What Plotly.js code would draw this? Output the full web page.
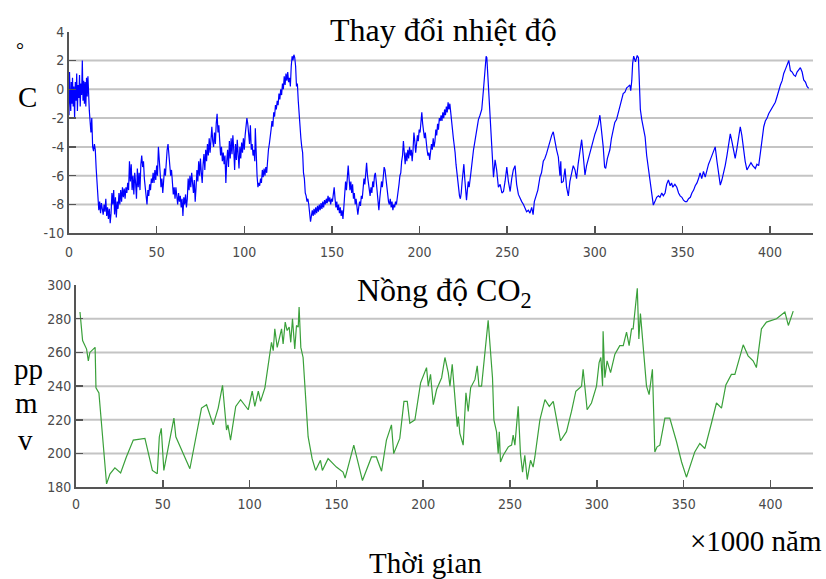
<!DOCTYPE html>
<html>
<head>
<meta charset="utf-8">
<script src="https://cdn.plot.ly/plotly-3.0.1.min.js"></script>
<style>html,body{margin:0;padding:0;background:#fff}#chart{width:826px;height:579px}</style>
</head>
<body>
<div id="chart"></div>
<script>
// ---------- DATA ----------
// Temperature change (°C), age in thousand years
const tempAge = [
0,0.3,0.6,1,1.3,1.7,2,2.4,2.8,3.2,3.6,4,4.4,4.8,5.2,5.6,6,6.4,6.8,7.2,7.6,8,8.4,8.8,9.2,9.6,10,10.4,10.8,11.2,11.6,
12.5,13,13.5,14,14.5,15,15.5,16,16.5,17,17.5,18,18.5,19,19.5,20,20.5,21,21.5,22,22.5,23,23.5,24,24.5,25,25.5,26,26.5,27,27.5,28,28.5,29,29.5,30,
30.5,31,31.5,32,32.5,33,33.5,34,34.5,35,35.5,36,36.5,37,37.5,38,38.5,39,39.5,40,40.5,41,41.5,42,42.5,43,43.5,44,44.5,45,45.5,46,46.5,47,47.5,48,48.5,49,49.5,50,
50.5,51,51.5,52,52.5,53,53.5,54,54.5,55,55.5,56,56.5,57,57.5,58,58.5,59,59.5,60,60.5,61,61.5,62,62.5,63,63.5,64,64.5,65,65.5,66,66.5,67,67.5,68,68.5,69,69.5,70,
70.5,71,71.5,72,72.5,73,73.5,74,74.5,75,75.5,76,76.5,77,77.5,78,78.5,79,79.5,80,80.5,81,81.5,82,82.5,83,83.5,84,84.5,85,85.5,86,86.5,87,87.5,88,88.5,89,89.5,90,
90.5,91,91.5,92,92.5,93,93.5,94,94.5,95,95.5,96,96.5,97,97.5,98,98.5,99,99.5,100,100.5,101,101.5,102,102.5,
103,103.5,104,104.5,105,105.5,106,106.3,106.8,107.3,107.8,108.3,108.8,109.3,109.8,110.3,110.8,111.3,111.8,112.3,112.8,113.3,113.8,114.3,114.8,115.3,115.8,116.3,116.8,117.3,117.8,118.3,118.8,119.3,119.8,
120.3,120.8,121.3,121.8,122.3,122.8,123.3,123.8,124.3,124.8,125.3,125.8,126.3,126.8,127.3,127.8,128.3,128.8,129.3,129.8,130.3,130.8,131.3,131.8,132.3,132.8,133.3,133.8,134.3,134.8,135.3,135.8,136.3,136.8,137.3,137.8,138.3,138.8,139.3,139.8,
140.3,140.8,141.3,141.8,142.3,142.8,143.3,143.8,144.3,144.8,145.3,145.8,146.3,146.8,147.3,147.8,148.3,148.8,149.3,149.8,150.3,150.8,151.3,151.8,152.3,152.8,153.3,153.8,154.3,154.8,155.3,155.8,156.3,156.8,157.3,157.8,158.3,158.8,159.3,159.8,
160.3,160.8,161.3,161.8,162.3,162.8,163.3,163.8,164.3,164.8,165.3,165.8,166.3,166.8,167.3,167.8,168.3,168.8,169.3,169.8,170.3,170.8,171.3,171.8,172.3,172.8,173.3,173.8,174.3,174.8,175.3,175.8,176.3,176.8,177.3,177.8,178.3,178.8,179.3,179.8,
180.3,180.8,181.3,181.8,182.3,182.8,183.3,183.8,184.3,184.8,185.3,185.8,186.3,186.8,187.3,187.8,188.3,188.8,189.3,189.8,190.3,190.8,191.3,191.8,192.3,192.8,193.3,193.8,194.3,194.8,195.3,195.8,196.3,196.8,197.3,197.8,198.3,198.8,199.3,199.8,
200.3,200.8,201.3,201.8,202.3,202.8,203.3,203.8,204.3,204.8,205.3,205.8,206.3,206.8,207.3,207.8,208.3,208.8,209.3,209.8,210.3,210.8,211.3,211.8,212.3,212.8,213.3,213.8,214.3,214.8,215.3,215.8,216.3,216.8,217.3,217.8,218.3,218.8,219.3,219.8,
220.3,220.8,221.3,221.8,222.3,222.8,223.3,223.8,224.3,224.8,225.3,225.8,226.3,226.8,227.3,227.8,228.3,228.8,229.3,
230.8,232,233.6,234.5,235.5,236.5,237.4,238,238.4,239.3,240.3,241.2,242.2,243.1,244,245,246,247,247.9,248.8,249.8,250.7,251.7,252.6,253.5,254.5,255.4,256.4,257.3,258.3,259.3,
260.2,261.1,262.1,263,264,264.8,265.5,266.5,267.5,268.7,269.6,270.6,271.5,272.5,273.5,274.4,275.4,276.3,277.2,278.2,279.2,280.1,280.6,281,282,283,283.9,284.9,285.8,286.8,287.7,288.7,289.6,
290.5,291.5,292.5,293.4,294.4,295.3,296.3,297.2,298.2,299.1,300.1,301,302,302.9,303.9,304.8,305.6,306.2,307.2,308.6,309.5,310.5,311.4,312.4,313.4,314.3,315.3,316.2,317.2,318.2,319.2,
320,320.5,321.1,321.6,322.2,323.2,324.2,324.9,325.4,326,326.8,327.7,328.7,329.6,330.5,331.5,332.4,333.4,334.3,335.3,336.3,337.2,338.2,339.1,340.1,341,342,343,343.8,344.5,345.7,346.8,347.8,348.7,349.7,
350.6,351.6,352.5,353.5,354.5,355.4,356.4,357.3,358.3,359.2,360.1,361,362,363,364,364.9,365.9,366.8,367.7,368.7,369.7,370.6,371.6,372.5,373.5,374.4,375.4,376.3,377.3,378.2,379.2,
380.1,381.1,382,383,383.9,384.9,385.8,386.8,387.7,388.6,389.1,390.1,391.6,392.5,393.5,394.5,395.4,396.4,397.3,398.3,399.2,400.2,401.1,402.1,403,404,405,405.9,406.9,407.8,408.8,409.7,
410.7,411.6,412.6,413.5,414.5,415.4,416.4,417.3,418.3,419.2,420.2,421.1,422
];
const tempVal = [
-1.8,1.2,-0.5,-1.5,0.5,-1,0.8,-1.2,0.2,-2,0.5,-0.8,1.1,-1.5,0.3,-0.6,1,-1.2,0.4,-0.4,2,-0.8,0.6,-1,0.5,-1.2,0.8,-0.5,0.9,-1.2,-1.5,
-3,-2,-4,-4.3,-3.8,-4.2,-5.5,-6.8,-8,-8.4,-7.8,-8.6,-7.9,-8.3,-8.7,-8,-8.5,-7.6,-8.8,-8.2,-9,-8.3,-9.3,-8.6,-7.2,-8,-7,-8.7,-7.5,-8.9,-7.8,-8.3,-7.2,-8,-7,-7.8,
-6.8,-7.5,-6.9,-7.6,-6.8,-7.2,-6.5,-7,-5,-6.4,-5.2,-7,-6,-7.3,-5.8,-6.5,-7.6,-5.5,-6.8,-5.8,-7,-5.2,-4.6,-5.4,-5,-6.2,-7,-7.6,-8,-7,-7.4,-6.6,-7,-6.2,-6.5,-5.8,-6.5,-5.6,-6.3,-5.3,
-6,-4,-5.5,-5.8,-6.8,-6.2,-7.2,-6.5,-5.5,-6,-4.8,-4.2,-3.8,-4.6,-5.2,-6,-5.6,-6.6,-7.3,-6.8,-7.6,-6.8,-7.5,-8,-7.2,-7.8,-7.4,-8.2,-7.6,-8.8,-7.5,-8,-7.3,-8.2,-7.6,-6.2,-7,-6,-6.8,-5.8,
-6.5,-7.2,-6.3,-7.8,-6.8,-5.6,-6.4,-5,-6,-4.8,-5.8,-6.5,-5.2,-4.5,-5.6,-4.2,-5,-3.8,-4.6,-3.4,-4.4,-3.2,-2.6,-3.6,-4,-3,-3.8,-2.4,-1.7,-3,-2.5,-3.6,-4.6,-4,-5,-4.4,-5.2,-4.6,-6.5,-5,
-4.2,-5.4,-3.6,-4.8,-3.4,-4.5,-3.2,-4.2,-5.6,-3.8,-4.9,-3.5,-4.6,-5.5,-4,-4.8,-3.7,-4.4,-3.4,-4.2,-3.2,-2.6,-2,-2.4,-3.2,
-3.8,-2.5,-4.2,-3.8,-4.6,-4.2,-5,-2.7,-5.2,-6,-6.8,-6.5,-6.7,-6.2,-6.5,-5.6,-6.1,-5.5,-6,-5.4,-5.8,-4.8,-4.2,-3.8,-3,-2.8,-2.2,-2.6,-1.6,-1.9,-1.1,-1.4,-0.8,-1.1,-0.3,
-0.7,0,-0.4,0.4,0,0.9,0.3,1.1,0.6,1.2,0.5,0.8,0.2,1.6,2.3,2,2.4,2.2,1.6,0.2,0.4,-0.8,-2,-2.8,-3.4,-4,-4.4,-5.8,-6.2,-7.2,-7.4,-7.8,-7.6,-8,-8.6,-9.2,-8.8,-8.4,-8.8,-8.3,
-8.7,-8.2,-8.6,-8.1,-8.5,-8,-8.4,-7.9,-8.3,-7.8,-8.2,-7.7,-8,-7.6,-7.9,-7.4,-7.8,-7.5,-8,-7.6,-7.8,-7.3,-6.8,-7.6,-8.2,-7.8,-8.4,-8,-8.6,-8.2,-8.8,-8.4,-9,-8.2,-7.2,-6.4,-7,-5.8,-5.3,-6.2,
-7,-6.4,-7.2,-6.6,-7.6,-7.2,-8,-7.6,-8.4,-8.7,-8.2,-7.8,-8.1,-7.4,-7.6,-6.8,-6.2,-6.6,-5.6,-5.1,-6,-6.6,-7,-7.4,-6.8,-7.2,-6.4,-6.8,-6,-5.8,-6.4,-7.2,-7.8,-8.4,-7.6,-7,-6.4,-6.8,-6,-5.4,
-5.6,-6.2,-6.8,-7.2,-7.8,-8,-7.6,-8.2,-7.8,-8.4,-8,-8.2,-7.8,-8,-7.6,-7,-6.6,-6,-5.8,-5,-4.6,-3.6,-4.6,-5.2,-4.4,-5,-4.2,-4.8,-4,-4.6,-4.2,-5,-4.2,-3,-3.6,-4.4,-3.8,-3.2,-3.6,-2.8,
-3,-2.2,-1.6,-2.4,-2.8,-3.4,-3,-3.8,-4.2,-4.6,-4.4,-4.9,-4.4,-3.8,-4.2,-3.4,-4,-3.6,-2.8,-3.2,-2.4,-2.8,-2,-2.2,-1.8,-2.2,-1.6,-2,-1.4,-1.8,-1.2,-1.6,-0.9,-1.4,-1,-1.8,-2.2,-2.8,-3.4,-3.8,
-4.4,-5.2,-5.8,-6.4,-6.8,-7.4,-7.6,-7.2,-6.4,-5.6,-5.2,-6.2,-7.2,-7.7,-7,-6.4,-6.8,-6,-5.8,
-4.2,-3.4,-2.1,-1.8,-1.4,0,1.8,2.3,2.2,0.2,-1.9,-4,-6.1,-4.9,-5.6,-6.8,-6.6,-7.2,-7.1,-6.4,-5.4,-6.4,-7.1,-6.2,-5.6,-5.3,-6.6,-7.3,-7.6,-7.8,-8,
-8.3,-8.5,-8.4,-8.6,-8.2,-8.7,-7.8,-7.4,-7,-6.1,-5.8,-5,-4.8,-4.45,-4,-3.6,-3.2,-2.95,-3.6,-4.2,-4.7,-6,-5,-6.5,-6.4,-5.5,-6.8,-7.4,-6.4,-5.8,-5.3,-5.6,-6.2,
-5.2,-4.4,-3.5,-4.6,-5.95,-5.3,-4.8,-4.45,-4,-3.4,-3.1,-2.8,-2.4,-1.8,-2.8,-4,-5.4,-5.5,-4.8,-4.2,-3.4,-2.7,-2.3,-2.1,-1.6,-1.1,-0.6,-0.3,-0.2,0.1,0.2,
0.3,-0.1,0.6,1.8,2.3,1.9,2.35,2.2,0,-1.4,-2.1,-2.6,-3.3,-4.6,-5.4,-6.1,-7.2,-8.04,-7.8,-7.5,-7.4,-7.5,-7.2,-7.4,-7.2,-6.6,-6.3,-6.7,-6.5,-6.8,-6.6,-6.8,-7.2,-7.4,-7.5,
-7.7,-7.8,-7.8,-7.6,-7.5,-7.2,-7,-6.7,-6.5,-6.2,-5.8,-6.2,-5.7,-6.1,-5.6,-5.2,-4.9,-4.6,-4.4,-4,-5,-5.8,-6.65,-6.3,-5.8,-5.3,-4.6,-3.8,-3.1,-3.6,-4.3,
-4.8,-4.1,-3.2,-2.6,-3.2,-4.2,-5,-5.6,-5.4,-5.2,-5.1,-5.3,-5.5,-5.2,-5.3,-4.4,-3.4,-2.6,-2.2,-2,-1.7,-1.5,-1.3,-1.1,-0.9,-0.5,-0.05,0.3,0.6,1.1,1.4,1.7,
2,1.3,1.2,1,0.9,1.2,1.4,1.5,1.2,0.65,0.5,0.2,0.07
];

// CO2 concentration (ppmv)
const co2Age = [
2.3,3.8,6.1,7.1,8,11,11.5,13.2,17.6,19.6,22.4,25.7,29,33,39.7,44,46.8,48,49.1,50.6,56.4,57.5,65.6,72.3,75.2,79,81.9,84.4,86.7,87.5,89,92,94.8,99.2,101.5,103,105,106.3,108.8,
111.6,112.6,113.6,114.5,115.9,118.4,119.3,120.5,121.6,122.8,123.7,124.7,126,127,128,128.5,129.5,130.8,133.7,135.6,136,138,140.8,141.9,145.2,150,153.8,155,160,165,170.2,173,176,178.8,181.7,183,186.5,
188.9,190.8,192.3,195.2,198.5,201.9,202.9,204.2,205.8,207.7,210.6,212.5,214.4,215.4,216.7,219.6,220.2,221.1,223,224.6,225.9,227.3,229.8,231.1,232.1,233.6,237.4,239.9,240.7,242.2,243.2,243.8,244.5,246.1,249,250.9,251.8,252.8,254.7,256,257.2,258.5,259.9,261.8,263.3,264.3,267.2,270.1,272.6,274.9,279.1,282.5,285.4,287.9,291.2,292.1,294.4,296.9,299.8,301.3,302.3,303.3,303.6,304.6,305.9,307.9,310.4,313.2,315.2,317.1,318.6,320,320.9,321.9,323.3,324.2,325.1,328.6,330.1,332,333.4,334.7,336.3,339.2,342,345.9,348.8,351.6,356.4,359.3,362.2,366,368.9,371.8,374.3,377.5,379.5,384.3,387.1,390,391.9,394.8,397.7,403.5,408.3,410.3,413.1
];
const co2Val = [
284,267,262,255,260,263,239,236,182,188,191.5,188.5,198,208,209,190,188,210,215,190,221,210,191,227,229,217,227,240.5,214,217,208,228,232,226,237,228,237,231,239,
259,266,261,274,263,274,265,278,273,275,266,280,262,276,275,287,263,257,210,201,197,190,196,190,197,192,189,185.5,205,184,198,198,189.5,208,217,200,209,
231,231,218,220,242,251,240,247,229,238,245,257,248,240,253,216,222,212,205,236,225,239,244,252,240,240,279,245,220,213,200,213,195,199,204,205,211,205,228,200,189,199,184.6,196,192,198,220,232,228,231,207.6,213,225,237,240,250,226,230,240,254,257,240,272.5,245,255,248,259,264,264,272,264,274,274,285,298,268,283,240,235,250,201,204,205,221,221,207,195,186,201,206,203,218,230,227,240.7,247,247,264.5,258,255,251,274,278,280,284,276,284.5
];

// Tick values and labels
const xTicks = [0,50,100,150,200,250,300,350,400];
const xTickText = ["0","50","100","150","200","250","300","350","400"];
const tempTicks = [4,2,0,-2,-4,-6,-8,-10];
const tempTickText = ["4","2","0","-2","-4","-6","-8","-10"];
const co2Ticks = [300,280,260,240,220,200,180];
const co2TickText = ["300","280","260","240","220","200","180"];
const tempGrid = [2,0,-2,-4,-6,-8];
const co2Grid = [280,260,240,220,200];

// ---------- LAYOUT ----------
const W = 826, H = 579;
const fx = p => p / W;
const fy = p => 1 - p / H;

const tickFont = {family: "'Liberation Sans Narrow','DejaVu Sans Condensed',Arial,sans-serif", size: 14, color: '#4a4a4a'};
const serif = "'Liberation Serif','Times New Roman',serif";

function xAxis(domain, anchor, standoff) {
  return {domain: domain, anchor: anchor, range: [0, 424.5], tickmode: 'array', tickvals: xTicks, ticktext: xTickText,
    ticks: 'inside', ticklen: 7, tickwidth: 1.5, tickcolor: '#555', showline: true, linecolor: '#555', linewidth: 2,
    showgrid: false, zeroline: false, tickfont: tickFont, ticklabelstandoff: standoff, fixedrange: true};
}
function yAxis(domain, anchor, range, vals, text) {
  return {domain: domain, anchor: anchor, range: range, tickmode: 'array', tickvals: vals, ticktext: text,
    ticks: 'inside', ticklen: 7, tickwidth: 1.5, tickcolor: '#555', showline: true, linecolor: '#555', linewidth: 2,
    showgrid: false, zeroline: false, tickfont: tickFont, fixedrange: true};
}

const shapes = [];
tempGrid.forEach(v => shapes.push({type: 'line', xref: 'x domain', yref: 'y', x0: 0, x1: 1, y0: v, y1: v, layer: 'below', line: {color: '#c4c4c4', width: 2}}));
co2Grid.forEach(v => shapes.push({type: 'line', xref: 'x2 domain', yref: 'y2', x0: 0, x1: 1, y0: v, y1: v, layer: 'below', line: {color: '#c4c4c4', width: 2}}));

function ann(text, xp, yp, size, xanchor) {
  return {text: text, xref: 'paper', yref: 'paper', x: fx(xp), y: fy(yp), xanchor: xanchor || 'center', yanchor: 'middle',
    showarrow: false, font: {family: serif, size: size, color: '#000'}};
}

const annotations = [
  ann('Thay đổi nhiệt độ', 443, 30, 32),
  ann('Nồng độ CO<sub>2</sub>', 445, 293, 32),
  ann('°', 20, 50, 20),
  ann('C', 27, 97, 29),
  ann('pp', 12, 369, 29, 'left'),
  ann('m', 26, 403, 29),
  ann('v', 25, 440, 29),
  ann('×1000 năm', 756, 541, 29),
  ann('Thời gian', 425, 563, 29)
];

const data = [
  {x: tempAge, y: tempVal, type: 'scatter', mode: 'lines', xaxis: 'x', yaxis: 'y', line: {color: '#0000ff', width: 1.2}, hoverinfo: 'skip'},
  {x: co2Age, y: co2Val, type: 'scatter', mode: 'lines', xaxis: 'x2', yaxis: 'y2', line: {color: '#3aa03a', width: 1.2}, hoverinfo: 'skip'}
];

const layout = {
  width: W, height: H, margin: {l: 0, r: 0, t: 0, b: 0},
  paper_bgcolor: '#fff', plot_bgcolor: '#fff', showlegend: false,
  xaxis: xAxis([fx(69), fx(813)], 'y', 5),
  yaxis: yAxis([fy(233.3), fy(31.7)], 'x', [-10, 4], tempTicks, tempTickText),
  xaxis2: xAxis([fx(76), fx(813)], 'y2', 3),
  yaxis2: yAxis([fy(487.3), fy(285)], 'x2', [180, 300], co2Ticks, co2TickText),
  shapes: shapes,
  annotations: annotations
};

Plotly.newPlot('chart', data, layout, {staticPlot: true, displayModeBar: false});
</script>
</body>
</html>
